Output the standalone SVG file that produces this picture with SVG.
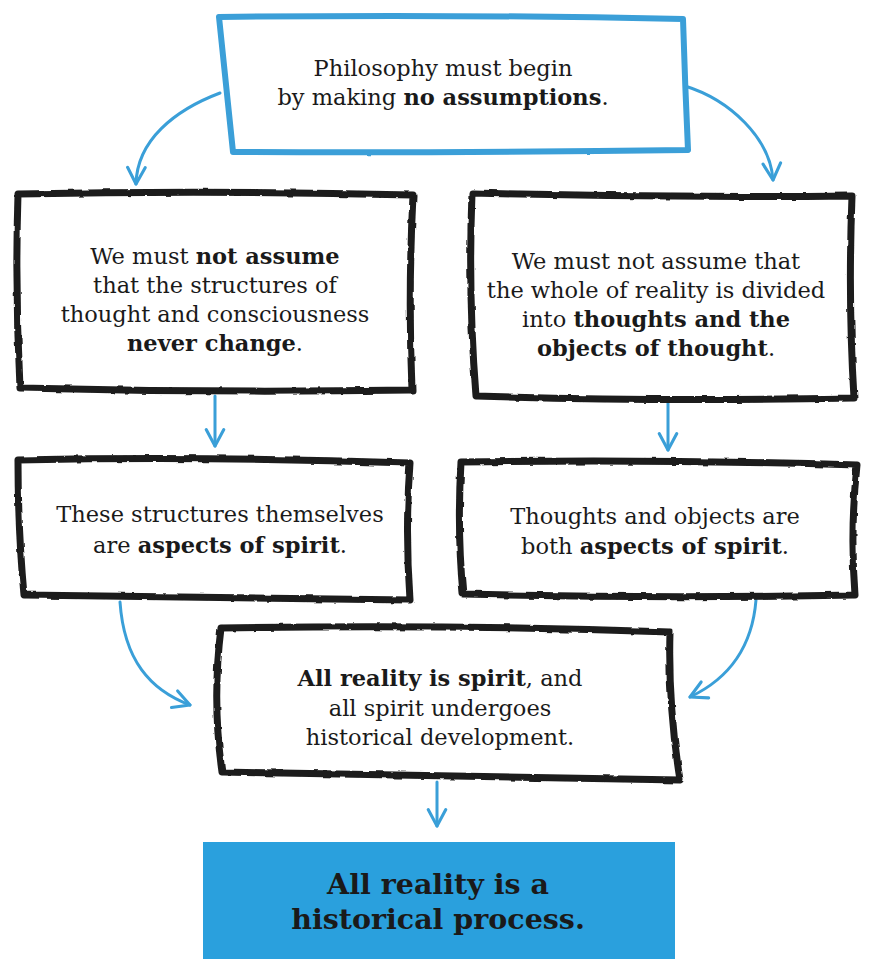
<svg xmlns="http://www.w3.org/2000/svg" width="869" height="959" viewBox="0 0 869 959">
<defs>
<style>
.t{font-family:"DejaVu Serif","Liberation Serif",serif;font-size:22.5px;fill:#1a1a1a;text-anchor:middle;}
.b{font-weight:bold;}
.box{fill:#fff;stroke:#1c1c1c;stroke-width:7;stroke-linejoin:round;filter:url(#rough);}
.bluebox{fill:#fff;stroke:#3a9fd8;stroke-width:6;stroke-linejoin:round;filter:url(#rough2);}
.conn{fill:none;stroke:#3a9fd8;stroke-width:3;stroke-linecap:round;}
.fin{font-family:"DejaVu Serif","Liberation Serif",serif;font-size:28.5px;font-weight:bold;fill:#1a1a1a;text-anchor:middle;}
</style>
<filter id="rough" x="-5%" y="-5%" width="110%" height="110%">
<feTurbulence type="fractalNoise" baseFrequency="0.08" numOctaves="2" seed="3"/>
<feDisplacementMap in="SourceGraphic" scale="3"/>
</filter>
<filter id="rough2" x="-5%" y="-5%" width="110%" height="110%">
<feTurbulence type="fractalNoise" baseFrequency="0.05" numOctaves="1" seed="5"/>
<feDisplacementMap in="SourceGraphic" scale="2"/>
</filter>
<marker id="ah" viewBox="0 0 20 20" refX="17" refY="10" markerWidth="22" markerHeight="22" markerUnits="userSpaceOnUse" orient="auto">
<path d="M2,2 L17,10 L2,18" fill="none" stroke="#3a9fd8" stroke-width="2.8" stroke-linecap="round" stroke-linejoin="round"/>
</marker>
</defs>
<rect width="869" height="959" fill="#fff"/>

<g id="connectors">
<path class="conn" marker-end="url(#ah)" d="M220,93 C175,110 137,140 136,184"/>
<path class="conn" marker-end="url(#ah)" d="M685,86 C730,100 770,138 773,180"/>
<path class="conn" marker-end="url(#ah)" d="M215,396 L215,446"/>
<path class="conn" marker-end="url(#ah)" d="M668,402 L668,450"/>
<path class="conn" marker-end="url(#ah)" d="M120,602 C124,660 150,690 190,705"/>
<path class="conn" marker-end="url(#ah)" d="M756,600 C752,650 726,680 690,697"/>
<path class="conn" marker-end="url(#ah)" d="M437,782 L437,826"/>
</g>

<g id="n1">
<path class="bluebox" d="M219,17 Q450,14 683,19 Q685,85 688,150 Q460,153 233,152 Q226,85 219,17 Z"/>
<text class="t" x="443" y="76">Philosophy must begin</text>
<text class="t" x="443" y="105">by making <tspan class="b">no assumptions</tspan>.</text>
</g>

<g id="n2">
<path class="box" d="M18,194 Q215,190 413,195 Q408,295 412,390 Q215,393 20,388 Q15,290 18,194 Z"/>
<text class="t" x="215" y="264">We must <tspan class="b">not assume</tspan></text>
<text class="t" x="215" y="293">that the structures of</text>
<text class="t" x="215" y="322">thought and consciousness</text>
<text class="t" x="215" y="351"><tspan class="b">never change</tspan>.</text>
</g>

<g id="n3">
<path class="box" d="M472,193 Q660,198 852,196 Q848,300 854,398 Q660,402 476,396 Q468,295 472,193 Z"/>
<text class="t" x="656" y="269">We must not assume that</text>
<text class="t" x="656" y="298">the whole of reality is divided</text>
<text class="t" x="656" y="327">into <tspan class="b">thoughts and the</tspan></text>
<text class="t" x="656" y="356"><tspan class="b">objects of thought</tspan>.</text>
</g>

<g id="n4">
<path class="box" d="M18,460 Q210,456 410,463 Q405,530 410,600 Q215,597 24,595 Q18,530 18,460 Z"/>
<text class="t" x="220" y="522">These structures themselves</text>
<text class="t" x="220" y="553">are <tspan class="b">aspects of spirit</tspan>.</text>
</g>

<g id="n5">
<path class="box" d="M461,462 Q660,459 857,465 Q850,530 855,595 Q660,599 463,594 Q457,530 461,462 Z"/>
<text class="t" x="655" y="524">Thoughts and objects are</text>
<text class="t" x="655" y="554">both <tspan class="b">aspects of spirit</tspan>.</text>
</g>

<g id="n6">
<path class="box" d="M221,628 Q450,624 670,632 Q668,705 680,780 Q450,776 222,772 Q212,700 221,628 Z"/>
<text class="t" x="440" y="686"><tspan class="b">All reality is spirit</tspan>, and</text>
<text class="t" x="440" y="716">all spirit undergoes</text>
<text class="t" x="440" y="745">historical development.</text>
</g>

<g id="n7">
<rect x="203" y="842" width="472" height="120" fill="#2aa0dd"/>
<text class="fin" x="438" y="894">All reality is a</text>
<text class="fin" x="438" y="929">historical process.</text>
</g>
</svg>
